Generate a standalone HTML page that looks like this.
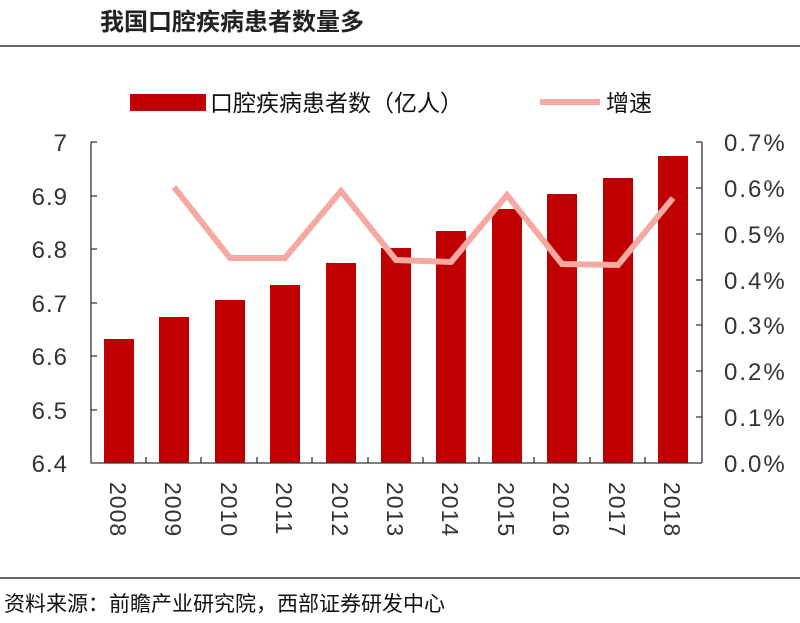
<!DOCTYPE html>
<html><head><meta charset="utf-8"><style>
body{margin:0;background:#fff;width:800px;height:618px;overflow:hidden}
text{font-family:"Liberation Sans","Noto Sans CJK SC",sans-serif}
</style></head><body>
<svg width="800" height="618" xmlns="http://www.w3.org/2000/svg">
<text x="100" y="30" font-size="24" font-weight="bold" fill="#222">我国口腔疾病患者数量多</text>
<line x1="0" y1="46" x2="800" y2="46" stroke="#333" stroke-width="1.5"/>
<rect x="130" y="94" width="76" height="17" fill="#c00000"/>
<text x="210" y="111" font-size="23" fill="#111">口腔疾病患者数（亿人）</text>
<line x1="540" y1="102" x2="600" y2="102" stroke="#f4aaa3" stroke-width="6"/>
<text x="606" y="111" font-size="23" fill="#111">增速</text>
<g fill="#c00000">
<rect x="104" y="339" width="30" height="124"/>
<rect x="159" y="317" width="30" height="146"/>
<rect x="215" y="300" width="30" height="163"/>
<rect x="270" y="285" width="30" height="178"/>
<rect x="326" y="263" width="30" height="200"/>
<rect x="381" y="248" width="30" height="215"/>
<rect x="436" y="231" width="30" height="232"/>
<rect x="492" y="209" width="30" height="254"/>
<rect x="547" y="194" width="30" height="269"/>
<rect x="603" y="178" width="30" height="285"/>
<rect x="658" y="156" width="30" height="307"/>
</g>
<polyline points="174,187 230,258 285,258 341,191 396,260 451,262 507,195 562,264 618,265 673,198" fill="none" stroke="#f4aaa3" stroke-width="6" stroke-linejoin="miter"/>
<g stroke="#333" stroke-width="1.3" fill="none">
<line x1="91" y1="142" x2="91" y2="463"/>
<line x1="91" y1="463" x2="702" y2="463"/>
<line x1="702" y1="142" x2="702" y2="463"/>
<path d="M91 142H97M91 196H97M91 249H97M91 303H97M91 356H97M91 410H97"/>
<path d="M696 142H702M696 188H702M696 234H702M696 280H702M696 325H702M696 371H702M696 417H702"/>
<path d="M146 463V457M201 463V457M257 463V457M312 463V457M368 463V457M423 463V457M479 463V457M534 463V457M590 463V457M645 463V457"/>
</g>
<g font-size="24" fill="#333" text-anchor="end" letter-spacing="1">
<text x="68" y="151">7</text><text x="68" y="205">6.9</text><text x="68" y="258">6.8</text><text x="68" y="312">6.7</text><text x="68" y="365">6.6</text><text x="68" y="419">6.5</text><text x="68" y="472">6.4</text>
</g>
<g font-size="24" fill="#333" letter-spacing="2">
<text x="724" y="151">0.7%</text><text x="724" y="197">0.6%</text><text x="724" y="243">0.5%</text><text x="724" y="289">0.4%</text><text x="724" y="334">0.3%</text><text x="724" y="380">0.2%</text><text x="724" y="426">0.1%</text><text x="724" y="472">0.0%</text>
</g>
<g font-size="23" fill="#333" letter-spacing="1">
<text transform="translate(110,482) rotate(90)">2008</text>
<text transform="translate(165,482) rotate(90)">2009</text>
<text transform="translate(221,482) rotate(90)">2010</text>
<text transform="translate(276,482) rotate(90)">2011</text>
<text transform="translate(332,482) rotate(90)">2012</text>
<text transform="translate(387,482) rotate(90)">2013</text>
<text transform="translate(442,482) rotate(90)">2014</text>
<text transform="translate(498,482) rotate(90)">2015</text>
<text transform="translate(553,482) rotate(90)">2016</text>
<text transform="translate(609,482) rotate(90)">2017</text>
<text transform="translate(664,482) rotate(90)">2018</text>
</g>
<line x1="0" y1="578" x2="800" y2="578" stroke="#333" stroke-width="1.5"/>
<text x="4" y="611" font-size="21" fill="#111">资料来源：前瞻产业研究院，西部证券研发中心</text>
</svg>
</body></html>
